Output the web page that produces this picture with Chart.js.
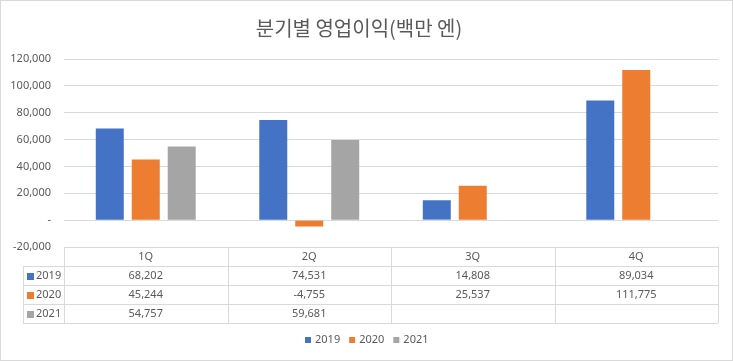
<!DOCTYPE html>
<html>
<head>
<meta charset="utf-8">
<script src="https://cdn.jsdelivr.net/npm/chart.js@4.4.1/dist/chart.umd.min.js"></script>
<style>
html,body{margin:0;padding:0;background:#fff;}
#wrap{position:relative;width:733px;height:361px;}
#frame{position:absolute;left:0;top:0;width:733px;height:361px;box-sizing:border-box;border:1px solid #d9d9d9;pointer-events:none;}
canvas{position:absolute;left:0;top:0;}
</style>
</head>
<body>
<div id="wrap"><canvas id="c" width="733" height="361"></canvas><div id="frame"></div></div>
<script>
const categories = ['1Q', '2Q', '3Q', '4Q'];
const seriesNames = ['2019', '2020', '2021'];
const values2019 = [68202, 74531, 14808, 89034];
const values2020 = [45244, -4755, 25537, 111775];
const values2021 = [54757, 59681, null, null];
const colors = ['#4472C4', '#ED7D31', '#A5A5A5'];

const FONT = '"Noto Sans", "Noto Sans CJK KR", sans-serif';
const TXT = '#595959';
const LINE = '#d9d9d9';

function fmt(v) {
  if (v === null || v === undefined) return '';
  if (v === 0) return '-';
  return v.toLocaleString('en-US');
}

const tablePlugin = {
  id: 'dataTable',
  afterDraw(chart) {
    const ctx = chart.ctx;
    const xs = chart.scales.x;
    const area = chart.chartArea;
    const top = area.bottom;
    const rowH = 19;
    const keyLeft = 23;
    const n = categories.length;
    const half = (xs.getPixelForValue(1) - xs.getPixelForValue(0)) / 2;
    const bounds = [];
    for (let i = 0; i < n; i++) bounds.push(xs.getPixelForValue(i) - half);
    bounds.push(xs.getPixelForValue(n - 1) + half);
    const bottom = top + rowH * 4;
    ctx.save();
    ctx.strokeStyle = LINE;
    ctx.lineWidth = 1;
    ctx.beginPath();
    ctx.moveTo(bounds[0], Math.round(top) + 0.5); ctx.lineTo(bounds[n], Math.round(top) + 0.5);
    for (let r = 1; r <= 4; r++) {
      const y = Math.round(top + rowH * r) + 0.5;
      ctx.moveTo(keyLeft, y); ctx.lineTo(bounds[n], y);
    }
    bounds.forEach(b => { const x = Math.round(b) + 0.5; ctx.moveTo(x, top); ctx.lineTo(x, bottom); });
    ctx.moveTo(keyLeft + 0.5, top + rowH); ctx.lineTo(keyLeft + 0.5, bottom);
    ctx.stroke();

    ctx.fillStyle = TXT;
    ctx.font = '11px ' + FONT;
    ctx.textAlign = 'center';
    ctx.textBaseline = 'middle';
    categories.forEach((c, i) => ctx.fillText(c, xs.getPixelForValue(i), top + rowH / 2 + 0.5));
    const data = [values2019, values2020, values2021];
    data.forEach((arr, r) => {
      const yc = top + rowH * (r + 1) + rowH / 2 + 0.5;
      ctx.fillStyle = TXT;
      ctx.textAlign = 'center';
      arr.forEach((v, i) => ctx.fillText(fmt(v), xs.getPixelForValue(i), yc));
      ctx.fillStyle = colors[r];
      ctx.fillRect(keyLeft + 4, Math.round(yc - 3.5), 7, 7);
      ctx.fillStyle = TXT;
      ctx.textAlign = 'left';
      ctx.fillText(seriesNames[r], keyLeft + 13, yc);
    });

    // bottom legend
    const ly = 340;
    const box = 6, gapT = 4, gapItem = 9;
    const widths = seriesNames.map(s => box + gapT + ctx.measureText(s).width);
    const total = widths.reduce((a, b) => a + b, 0) + gapItem * (widths.length - 1);
    let x = Math.round(chart.width / 2 - total / 2);
    seriesNames.forEach((s, i) => {
      ctx.fillStyle = colors[i];
      ctx.fillRect(x, ly - 3, box, box);
      ctx.fillStyle = TXT;
      ctx.textAlign = 'left';
      ctx.fillText(s, x + box + gapT, ly);
      x += widths[i] + gapItem;
    });
    ctx.restore();
  }
};

const datasets = [values2019, values2020, values2021].map((arr, i) => ({
  label: seriesNames[i],
  data: arr,
  backgroundColor: colors[i],
  borderWidth: 0,
  categoryPercentage: 0.66,
  barPercentage: 0.778
}));

new Chart(document.getElementById('c'), {
  type: 'bar',
  data: { labels: categories, datasets },
  options: {
    responsive: false,
    animation: false,
    layout: { padding: { left: 0, right: 15, top: 0, bottom: 38 } },
    plugins: {
      title: {
        display: true,
        text: '분기별 영업이익(백만 엔)',
        color: TXT,
        font: { family: '"Noto Sans CJK KR", sans-serif', size: 20, weight: 'normal' },
        padding: { top: 16, bottom: 19 }
      },
      legend: { display: false },
      tooltip: { enabled: false }
    },
    scales: {
      x: {
        grid: { display: false },
        border: { display: false },
        ticks: { display: false },
        afterFit: (s) => { s.height = 76; }
      },
      y: {
        min: -20000,
        max: 120000,
        ticks: {
          stepSize: 20000,
          color: TXT,
          font: { family: FONT, size: 11 },
          padding: 13,
          callback: (v) => fmt(v)
        },
        grid: { color: LINE, drawTicks: false },
        border: { display: false },
        afterFit: (s) => { s.width = 64; }
      }
    }
  },
  plugins: [tablePlugin]
});
</script>
</body>
</html>
